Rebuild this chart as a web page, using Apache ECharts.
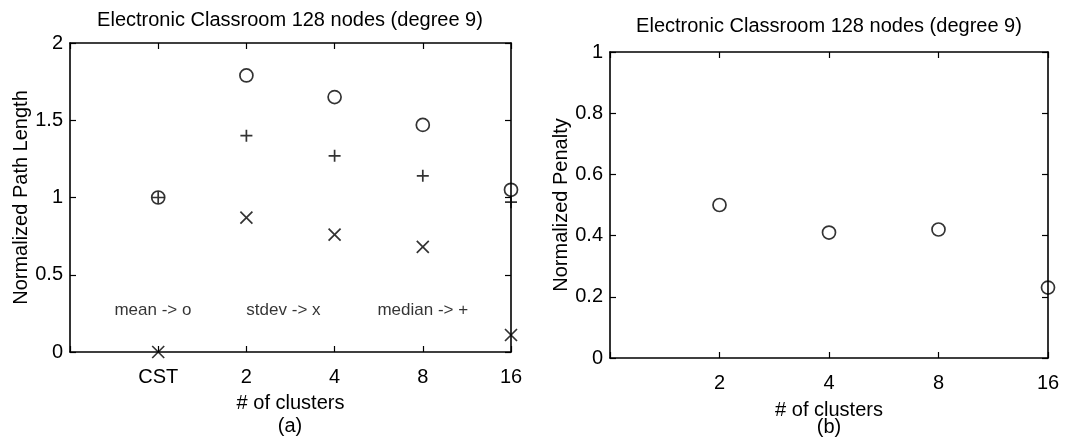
<!DOCTYPE html>
<html><head><meta charset="utf-8">
<script src="https://cdn.jsdelivr.net/npm/echarts@6/dist/echarts.min.js"></script>
<style>html,body{margin:0;padding:0;background:#fff}#c{width:1087px;height:440px}</style>
</head><body><div id="c"></div>
<script>
// ---- data ----
const titleText = 'Electronic Classroom 128 nodes (degree 9)';
const catsA = ['CST', '2', '4', '8', '16'];
const meanA   = [1.00, 1.79, 1.65, 1.47, 1.05];
const stdevA  = [0.00, 0.87, 0.76, 0.68, 0.11];
const medianA = [1.00, 1.40, 1.27, 1.14, 0.97];
const catsB = ['2', '4', '8', '16'];
const penaltyB = [0.50, 0.41, 0.42, 0.23];
const noteTexts = ['mean -> o', 'stdev -> x', 'median -> +'];
const noteX = [0.94, 2.42, 4.0];
const noteY = [0.27, 0.27, 0.27];

const FONT = 'Liberation Sans, Arial, Helvetica, sans-serif';
const PLUS = 'path://M0,6L12,6M6,0L6,12';
const CROSS = 'path://M0,0L12,12M12,0L0,12';

function pts(vals) { return vals.map((v, i) => [i + 1, v]); }
const mk = (sym, size) => ({
  type: 'scatter', symbol: sym, symbolSize: size,
  itemStyle: {color: 'rgba(0,0,0,0)', borderColor: '#000', borderWidth: 1.7},
  emphasis: {disabled: true}, z: 5
});

const chart = echarts.init(document.getElementById('c'));
const xBase = (gi, max, cats, pos, labels) => ({
  type: 'value', gridIndex: gi, min: 0, max: max, interval: 1, position: pos,
  axisLine: {show: true, onZero: false, lineStyle: {color: '#000', width: 1.6}},
  axisTick: {show: true, inside: true, length: 6, lineStyle: {color: '#000', width: 1.2}},
  splitLine: {show: false},
  axisLabel: labels ? {show: true, margin: 15, color: '#000', fontSize: 20, fontFamily: FONT,
    formatter: v => (v >= 1 && v <= cats.length) ? cats[v - 1] : ''} : {show: false}
});
const yBase = (gi, max, iv, pos, labels) => ({
  type: 'value', gridIndex: gi, min: 0, max: max, interval: iv, position: pos,
  axisLine: {show: true, onZero: false, lineStyle: {color: '#000', width: 1.6}},
  axisTick: {show: true, inside: true, length: 6, lineStyle: {color: '#000', width: 1.2}},
  splitLine: {show: false},
  axisLabel: labels ? {show: true, margin: 7, color: '#000', fontSize: 20, fontFamily: FONT} : {show: false}
});

const xA = xBase(0, 5, catsA, 'bottom', true);
xA.name = '# of clusters'; xA.nameLocation = 'middle'; xA.nameGap = 41;
xA.nameTextStyle = {color: '#000', fontSize: 20, fontFamily: FONT};
const xB = xBase(1, 4, catsB, 'bottom', true);
xB.name = '# of clusters'; xB.nameLocation = 'middle'; xB.nameGap = 42;
xB.nameTextStyle = {color: '#000', fontSize: 20, fontFamily: FONT};
const yA = yBase(0, 2, 0.5, 'left', true);
yA.name = 'Normalized Path Length'; yA.nameLocation = 'middle'; yA.nameGap = 38;
yA.nameTextStyle = {color: '#000', fontSize: 20, fontFamily: FONT};
const yB = yBase(1, 1, 0.2, 'left', true);
yB.name = 'Normalized Penalty'; yB.nameLocation = 'middle'; yB.nameGap = 36;
yB.nameTextStyle = {color: '#000', fontSize: 20, fontFamily: FONT};

const option = {
  animation: false,
  backgroundColor: '#fff',
  grid: [
    {left: 70, top: 43, width: 441, height: 309},
    {left: 610, top: 52, width: 438, height: 306}
  ],
  xAxis: [xA, xBase(0, 5, catsA, 'top', false), xB, xBase(1, 4, catsB, 'top', false)],
  yAxis: [yA, yBase(0, 2, 0.5, 'right', false), yB, yBase(1, 1, 0.2, 'right', false)],
  graphic: [
    {type: 'text', x: 290, y: 20, style: {text: titleText, textAlign: 'center', textVerticalAlign: 'middle', fontSize: 20, fontFamily: FONT, fill: '#000'}},
    {type: 'text', x: 829, y: 26, style: {text: titleText, textAlign: 'center', textVerticalAlign: 'middle', fontSize: 20, fontFamily: FONT, fill: '#000'}},
    {type: 'text', x: 290, y: 426, style: {text: '(a)', textAlign: 'center', textVerticalAlign: 'middle', fontSize: 20, fontFamily: FONT, fill: '#000'}},
    {type: 'text', x: 829, y: 427, style: {text: '(b)', textAlign: 'center', textVerticalAlign: 'middle', fontSize: 20, fontFamily: FONT, fill: '#000'}}
  ],
  series: [
    Object.assign(mk('circle', 13), {name: 'mean', xAxisIndex: 0, yAxisIndex: 0, data: pts(meanA)}),
    Object.assign(mk(CROSS, 12), {name: 'stdev', xAxisIndex: 0, yAxisIndex: 0, data: pts(stdevA)}),
    Object.assign(mk(PLUS, 12), {name: 'median', xAxisIndex: 0, yAxisIndex: 0, data: pts(medianA)}),
    Object.assign(mk('circle', 13), {name: 'penalty', xAxisIndex: 2, yAxisIndex: 2, data: pts(penaltyB)}),
    {
      type: 'scatter', xAxisIndex: 0, yAxisIndex: 0, symbolSize: 1,
      itemStyle: {color: 'rgba(0,0,0,0)'}, emphasis: {disabled: true}, silent: true,
      data: noteTexts.map((t, i) => ({value: [noteX[i], noteY[i]], name: t})),
      label: {show: true, position: 'inside', formatter: p => p.name, color: '#000', fontSize: 17, fontFamily: FONT}
    }
  ]
};
chart.setOption(option);
</script></body></html>
